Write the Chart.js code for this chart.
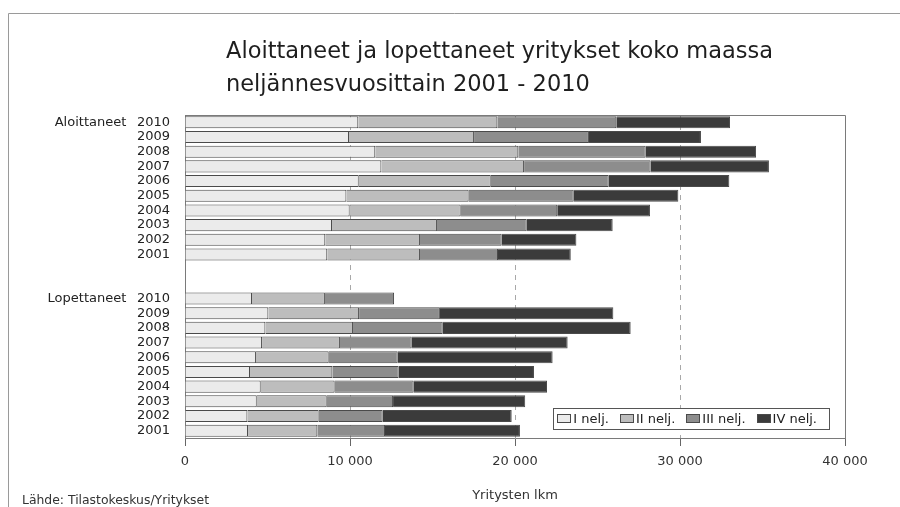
<!DOCTYPE html>
<html><head><meta charset="utf-8">
<script src="https://cdn.jsdelivr.net/npm/chart.js@4/dist/chart.umd.min.js"></script>
<style>html,body{margin:0;padding:0;background:#fff}canvas{display:block}</style>
</head><body>
<canvas id="c" width="900" height="507"></canvas>
<script>
// ---- data (rows top to bottom: 2010 ... 2001) ----
const years = ["2010","2009","2008","2007","2006","2005","2004","2003","2002","2001"];
const groupNames = ["Aloittaneet", "Lopettaneet"];
const seriesNames = ["I nelj.", "II nelj.", "III nelj.", "IV nelj."];
const seriesColors = ["#ebebeb", "#bdbdbd", "#8d8d8d", "#3b3b3b"];

const aloQ1 = [10500, 9940, 11530, 11900, 10530, 9780, 9980, 8910, 8500, 8620];
const aloQ2 = [8430, 7580, 8670, 8650, 8000, 7410, 6730, 6360, 5740, 5620];
const aloQ3 = [7210, 6960, 7720, 7670, 7150, 6370, 5850, 5440, 4950, 4730];
const aloQ4 = [6890, 6790, 6690, 7170, 7310, 6340, 5620, 5210, 4530, 4410];

const lopQ1 = [4060, 5050, 4870, 4670, 4300, 3940, 4590, 4350, 3780, 3820];
const lopQ2 = [4420, 5500, 5310, 4720, 4410, 4990, 4480, 4240, 4320, 4200];
const lopQ3 = [4190, 4900, 5440, 4350, 4180, 4020, 4790, 4020, 3880, 4100];
const lopQ4 = [null, 10510, 11390, 9450, 9390, 8200, 8080, 8010, 7820, 8180];

const xTicks = [0, 10000, 20000, 30000, 40000];
const titleLines = ["Aloittaneet ja lopettaneet yritykset koko maassa", "neljännesvuosittain 2001 - 2010"];
const xTitle = "Yritysten lkm";
const sourceText = "Lähde: Tilastokeskus/Yritykset";

// ---- build ----
const FONT = "'DejaVu Sans', sans-serif";
const gap = [null, null];
const rowLabels = (name) => years.map((y, i) => i === 0 ? name + "\u2002 " + y : y);
const labels = [...rowLabels(groupNames[0]), "", "", ...rowLabels(groupNames[1])];
const aloSeries = [aloQ1, aloQ2, aloQ3, aloQ4];
const lopSeries = [lopQ1, lopQ2, lopQ3, lopQ4];
const datasets = seriesNames.map((name, k) => ({
  label: name,
  data: [...aloSeries[k], ...gap, ...lopSeries[k]],
  backgroundColor: seriesColors[k],
  borderColor: "#4a4a4a",
  borderWidth: 1,
  categoryPercentage: 1,
  barPercentage: 0.82
}));

const fmt = v => String(v).replace(/\B(?=(\d{3})+(?!\d))/g, " ");

const decor = {
  id: "decor",
  beforeDraw(chart) {
    const ctx = chart.ctx;
    ctx.save();
    ctx.fillStyle = "#fff";
    ctx.fillRect(0, 0, chart.width, chart.height);
    ctx.strokeStyle = "#9a9a9a";
    ctx.lineWidth = 1;
    ctx.beginPath();
    ctx.moveTo(8.5, 507); ctx.lineTo(8.5, 13.5); ctx.lineTo(900, 13.5);
    ctx.stroke();
    // title
    ctx.fillStyle = "#1e1e1e";
    ctx.font = "22.5px " + FONT;
    ctx.textAlign = "left";
    ctx.textBaseline = "alphabetic";
    ctx.fillText(titleLines[0], 226, 58);
    ctx.fillText(titleLines[1], 226, 91);
    // source
    ctx.font = "12.4px " + FONT;
    ctx.fillStyle = "#333";
    ctx.fillText(sourceText, 22, 504);
    ctx.restore();
  },
  afterDraw(chart) {
    const ctx = chart.ctx;
    const a = chart.chartArea;
    ctx.save();
    ctx.strokeStyle = "#7a7a7a";
    ctx.lineWidth = 1;
    ctx.beginPath();
    ctx.moveTo(Math.round(a.left) + 0.5, Math.round(a.top) + 0.5);
    ctx.lineTo(Math.round(a.right) + 0.5, Math.round(a.top) + 0.5);
    ctx.lineTo(Math.round(a.right) + 0.5, Math.round(a.bottom) + 0.5);
    ctx.stroke();
    // legend
    ctx.font = "13px " + FONT;
    const items = chart.data.datasets.map(d => ({ text: d.label, color: d.backgroundColor, w: ctx.measureText(d.label).width }));
    const boxW = 14, boxH = 9, gapT = 2, spacing = 11, padL = 4, padR = 12;
    let total = padL + padR;
    items.forEach((it, i) => { total += boxW + gapT + it.w + (i < items.length - 1 ? spacing : 0); });
    const right = a.right - 16, bottom = a.bottom - 9, h = 21;
    const left = right - total, top = bottom - h;
    ctx.fillStyle = "#fff";
    ctx.fillRect(left, top, total, h);
    ctx.strokeStyle = "#555";
    ctx.strokeRect(Math.round(left) + 0.5, Math.round(top) + 0.5, Math.round(total), h);
    let x = left + padL;
    const cy = top + h / 2 + 1;
    items.forEach(it => {
      ctx.fillStyle = it.color;
      ctx.fillRect(Math.round(x), Math.round(cy - boxH / 2 - 1), boxW, boxH);
      ctx.strokeStyle = "#4a4a4a";
      ctx.strokeRect(Math.round(x) + 0.5, Math.round(cy - boxH / 2 - 1) + 0.5, boxW - 1, boxH - 1);
      ctx.fillStyle = "#222";
      ctx.textAlign = "left";
      ctx.textBaseline = "middle";
      ctx.fillText(it.text, x + boxW + gapT, cy);
      x += boxW + gapT + it.w + spacing;
    });
    ctx.restore();
  }
};

new Chart(document.getElementById("c"), {
  type: "bar",
  data: { labels, datasets },
  options: {
    indexAxis: "y",
    responsive: false,
    animation: false,
    devicePixelRatio: 1,
    layout: { padding: { left: 0, right: 55, top: 115, bottom: 0 } },
    plugins: { legend: { display: false }, title: { display: false }, tooltip: { enabled: false } },
    scales: {
      x: {
        stacked: true,
        min: 0, max: 40000,
        afterFit(s) { s.height = 69; },
        afterBuildTicks(s) { s.ticks = xTicks.map(v => ({ value: v })); },
        ticks: { callback: v => fmt(v), font: { family: FONT, size: 13 }, color: "#333", padding: 8, maxRotation: 0 },
        grid: {
          color: c => (c.tick && (c.tick.value === 0 || c.tick.value === 40000)) ? "rgba(0,0,0,0)" : "#a8a8a8",
          tickColor: "#666",
          tickLength: 8,
          drawTicks: true
        },
        border: { display: true, color: "#7a7a7a", dash: [5, 5] },
        title: { display: true, text: xTitle, font: { family: FONT, size: 13 }, color: "#333", padding: { top: 0, bottom: 4 } }
      },
      y: {
        stacked: true,
        afterFit(s) { s.width = 185; },
        ticks: { autoSkip: false, font: { family: FONT, size: 13 }, color: "#222", padding: 15 },
        grid: { display: false, drawTicks: false },
        border: { display: true, color: "#7a7a7a" }
      }
    }
  },
  plugins: [decor]
});
</script>
</body></html>
